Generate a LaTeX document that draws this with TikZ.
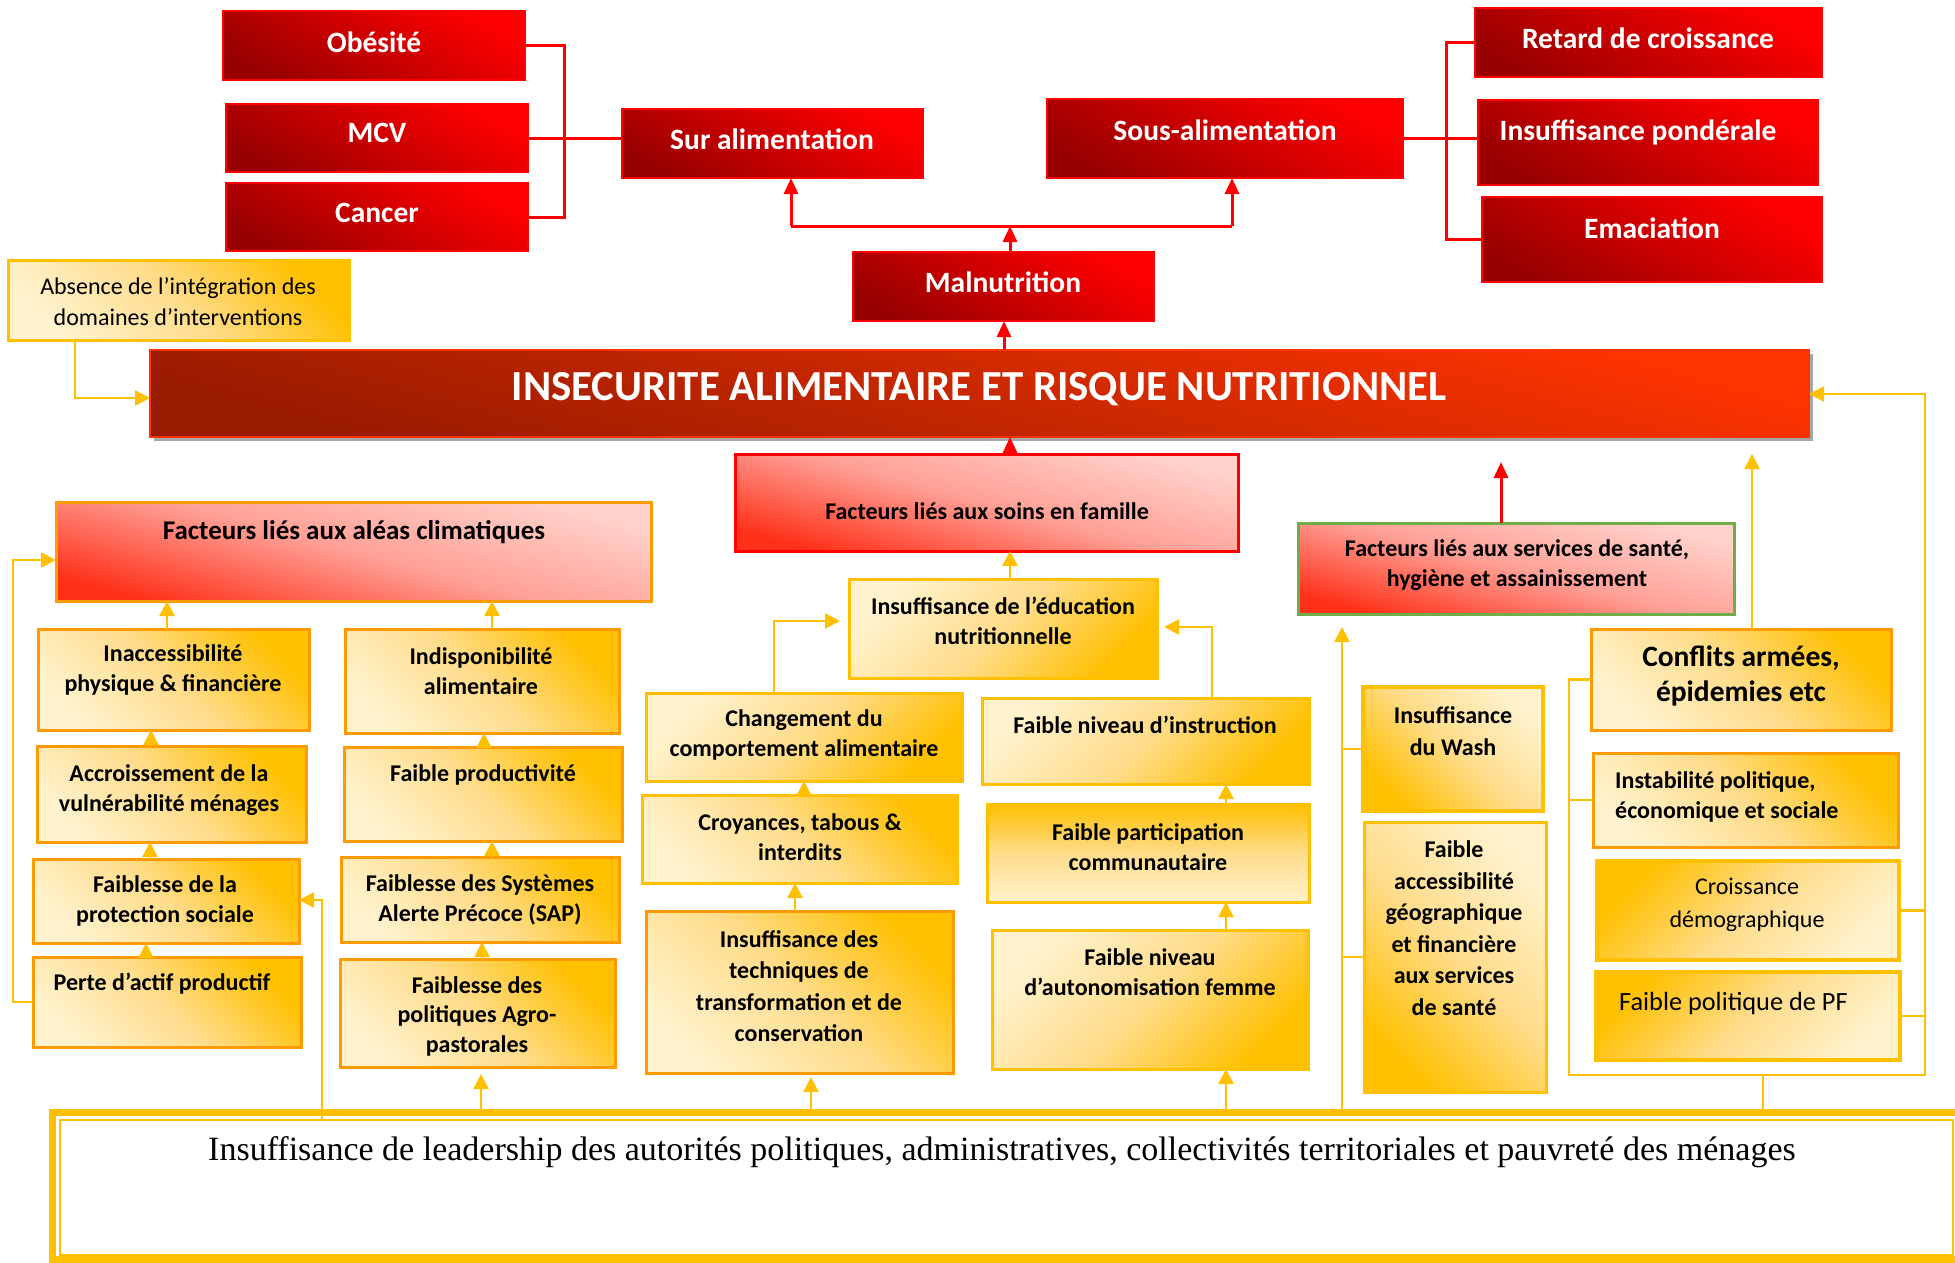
\documentclass[tikz,border=0pt]{standalone}
\usepackage{fontspec}
\setmainfont{Carlito}
\newfontfamily\seriffam{Liberation Serif}
\usetikzlibrary{arrows.meta}
\definecolor{redD}{HTML}{990000}
\definecolor{redM}{HTML}{CC0000}
\definecolor{redL}{HTML}{FF0000}
\definecolor{insD}{HTML}{981A00}
\definecolor{insM}{HTML}{C82800}
\definecolor{insL}{HTML}{FF3300}
\definecolor{gold}{HTML}{FFC000}
\definecolor{ylight}{HTML}{FFF2CC}
\definecolor{ymid}{HTML}{FFDC8A}
\definecolor{orgB}{HTML}{FF9A00}
\definecolor{pinkL}{HTML}{FFD3CC}
\definecolor{pinkM}{HTML}{FFA096}
\definecolor{pinkD}{HTML}{FF3018}
\definecolor{grnB}{HTML}{70AD47}
\definecolor{shadowG}{HTML}{A6A6A6}
\newcommand\bx[6]{\node[#6, minimum width={(#4)-(#2)}, minimum height={(#5)-(#3)}] (#1) at (#2,#3) {};}
\tikzset{
  box/.style={inner sep=0pt, outer sep=0pt, anchor=north west},
  redbox/.style={box, draw=redL, line width=2pt, top color=redL, bottom color=redD, middle color=redM, shading angle=-30},
  insbox/.style={box, draw=insL, line width=2.5pt, top color=insL, bottom color=insD, middle color=insM, shading angle=-15},
  ybox/.style={box, draw=gold, line width=3pt, top color=gold, bottom color=ylight, middle color=ymid, shading angle=#1},
  ybox/.default=-45,
  obox/.style={ybox=#1, draw=orgB},
  obox/.default=-45,
  pbox/.style={box, line width=3pt, top color=pinkL, bottom color=pinkD, middle color=pinkM, shading angle=-15},
  tB/.style={inner sep=0pt, align=center, font=\bfseries\fontsize{24}{29.5}\selectfont},
  tR/.style={inner sep=0pt, align=center, text=white, font=\bfseries\fontsize{29.5}{34}\selectfont},
  tN/.style={inner sep=0pt, align=center, font=\fontsize{24}{31}\selectfont},
  yline/.style={draw=gold, line width=2.5pt},
  yarr/.style={draw=gold, line width=2.5pt, -{Triangle[width=15pt,length=15pt]}},
  rline/.style={draw=redL, line width=3pt},
  rarr/.style={draw=redL, line width=3pt, -{Triangle[width=14pt,length=16pt]}},
}
\begin{document}
\begin{tikzpicture}[x=1pt,y=-1pt]
\useasboundingbox (0,0) rectangle (1955,1262);
\clip (0,0) rectangle (1955,1262);
\fill[white] (0,0) rectangle (1955,1262);

% ---------- top red boxes ----------
\bx{obes}{223}{11}{525}{80}{redbox}
\bx{mcv}{226}{104}{528}{172}{redbox}
\bx{cancer}{226}{183}{528}{251}{redbox}
\bx{sur}{622}{109}{923}{178}{redbox}
\bx{sous}{1047}{99}{1403}{178}{redbox}
\bx{retard}{1475}{8}{1822}{77}{redbox}
\bx{insp}{1478}{100}{1818}{185}{redbox}
\bx{emac}{1482}{197}{1822}{282}{redbox}
\bx{maln}{853}{252}{1154}{321}{redbox}

\bx{absence}{8}{260}{349}{340}{ybox=-45}
\fill[shadowG] (154,354) rectangle (1813,441);
\bx{insec}{150}{350}{1809}{437}{insbox}

% ---------- category boxes ----------
\bx{aleas}{56}{502}{651}{601}{pbox, draw=orgB}
\bx{soins}{735}{454}{1238}{551}{pbox, draw=redL}
\bx{sante}{1298}{523}{1734}{614}{pbox, draw=grnB}

% left columns
\bx{inacc}{38}{629}{309}{730}{obox}
\bx{indisp}{345}{629}{619}{733}{obox}
\bx{accr}{37}{746}{306}{842}{obox}
\bx{fprod}{344}{747}{622}{841}{obox}
\bx{prot}{33}{859}{299}{943}{obox}
\bx{sap}{341}{857}{619}{942}{obox}
\bx{perte}{33}{957}{301}{1047}{obox}
\bx{agro}{340}{959}{615}{1067}{obox}

% middle
\bx{educ}{849}{579}{1157}{678}{ybox=-135}
\bx{chg}{646}{693}{962}{781}{ybox=-135}
\bx{instr}{982}{698}{1309}{784}{ybox=-135}
\bx{croy}{642}{795}{957}{883}{ybox=-45}
\bx{part}{987}{804}{1309}{902}{ybox=0}
\bx{tech}{646}{911}{953}{1073}{obox}
\bx{auton}{992}{930}{1308}{1069}{ybox=-135}

% right
\bx{wash}{1363}{687}{1543}{811}{ybox=135, line width=4.5pt}
\bx{access}{1364}{822}{1546}{1092}{ybox=135}
\bx{conf}{1591}{629}{1891}{730}{obox}
\bx{instab}{1593}{753}{1898}{847}{obox}
\bx{crois}{1597}{861}{1899}{960}{ybox=45, line width=4.5pt}
\bx{pf}{1596}{972}{1900}{1060}{ybox=45, line width=4.5pt}

% bottom frame
\node[box, draw=gold, line width=7pt, minimum width=1920, minimum height=147] (leadout) at (52,1112) {};
\node[box, draw=gold, line width=2.5pt, minimum width=1893, minimum height=135] (lead) at (60,1120) {};

% ---------- red connectors ----------
\draw[rline] (obes.east) -- (obes.east -| 564,0) -- (cancer.east -| 564,0) -- (cancer.east);
\draw[rline] (mcv.east) -- (mcv.east -| sur.west);
\draw[rline] (sous.east) -- (sous.east -| insp.west);
\draw[rline] (retard.west) -- (retard.west -| 1446,0) -- (emac.west -| 1446,0) -- (emac.west);
\coordinate (splitL) at (791,226);
\coordinate (splitR) at (1232,226);
\draw[rline] (splitL) -- (splitR);
\draw[rarr] (splitL) -- (sur.south -| splitL);
\draw[rarr] (splitR) -- (sous.south -| splitR);
\draw[rarr] (maln.north -| 1010,0) -- (1010,226);
\draw[rarr] (insec.north -| 1004,0) -- (maln.south -| 1004,0);
\draw[rarr] (soins.north -| 1010,0) -- (insec.south -| 1010,0);
\coordinate (santetip) at (1501,462);
\draw[rarr] (sante.north -| santetip) -- (santetip);

% ---------- yellow connectors ----------
\draw[yarr] (absence.south -| 75,0) -- (75,398) -- (insec.west |- 0,398);
\draw[yarr] (inacc.north -| 167,0) -- (aleas.south -| 167,0);
\draw[yarr] (indisp.north -| 492,0) -- (aleas.south -| 492,0);
\draw[yarr] (accr.north -| 151,0) -- (inacc.south -| 151,0);
\draw[yarr] (fprod.north -| 484,0) -- (indisp.south -| 484,0);
\draw[yarr] (prot.north -| 150,0) -- (accr.south -| 150,0);
\draw[yarr] (sap.north -| 492,0) -- (fprod.south -| 492,0);
\draw[yarr] (perte.north -| 146,0) -- (prot.south -| 146,0);
\draw[yarr] (agro.north -| 482,0) -- (sap.south -| 482,0);
\draw[yarr, shorten >=7pt] (leadout.north -| 481,0) -- (agro.south -| 481,0);
\draw[yarr] (perte.west) -- (perte.west -| 13,0) -- (13,560) -- (aleas.west |- 0,560);
\draw[yarr] (lead.north -| 322,0) -- (322,900) -- (prot.east |- 0,900);

\draw[yarr] (educ.north -| 1010,0) -- (soins.south -| 1010,0);
\draw[yarr, shorten >=9pt] (chg.north -| 774,0) -- (774,621) -- (educ.west |- 0,621);
\draw[yarr, shorten >=7pt] (instr.north -| 1212,0) -- (1212,627) -- (educ.east |- 0,627);
\draw[yarr] (croy.north -| 804,0) -- (chg.south -| 804,0);
\draw[yarr] (tech.north -| 795,0) -- (croy.south -| 795,0);
\draw[yarr, shorten >=4pt] (leadout.north -| 811,0) -- (tech.south -| 811,0);
\draw[yarr] (part.north -| 1226,0) -- (instr.south -| 1226,0);
\draw[yarr] (auton.north -| 1226,0) -- (part.south -| 1226,0);
\draw[yarr] (leadout.north -| 1226,0) -- (auton.south -| 1226,0);

\coordinate (washtip) at (1342,627);
\draw[yarr] (leadout.north -| washtip) -- (washtip);
\draw[yline] (wash.west) -- (wash.west -| washtip);
\draw[yline] (access.west) -- (access.west -| washtip);

\coordinate (conftip) at (1752,454);
\draw[yarr] (conf.north -| conftip) -- (conftip);
\draw[yarr] (conf.west) -- (conf.west -| 1569,0) -- (1569,1075) -- (1925,1075) -- (1925,394) -- (insec.east |- 0,394);
\draw[yline] (instab.west) -- (instab.west -| 1569,0);
\draw[yline] (crois.east) -- (crois.east -| 1925,0);
\draw[yline] (pf.east) -- (pf.east -| 1925,0);
\draw[yline] (1763,1075) -- (leadout.north -| 1763,0);

% ---------- texts ----------
\node[tR] (obes-t) at (374,42) {Obésité};
\node[tR] (mcv-t) at (377,133) {MCV};
\node[tR] (cancer-t) at (377,213) {Cancer};
\node[tR] (sur-t) at (772,139) {Sur alimentation};
\node[tR] (sous-t) at (1225,130) {Sous-alimentation};
\node[tR] (retard-t) at (1648,38) {Retard de croissance};
\node[tR] (insp-t) at (1638,132) {Insuffisance pondérale};
\node[tR] (emac-t) at (1652,228) {Emaciation};
\node[tR] (maln-t) at (1003,282) {Malnutrition};
\node[tN] (absence-t) at (178,302) {Absence de l’intégration des\\domaines d’interventions};
\node[inner sep=0pt, text=white, font=\bfseries\fontsize{42.8}{48}\selectfont] (insec-t) at (979,389) {INSECURITE ALIMENTAIRE ET RISQUE NUTRITIONNEL};

\node[tB, font=\bfseries\fontsize{27}{32}\selectfont] (aleas-t) at (354,532) {Facteurs liés aux aléas climatiques};
\node[tB] (soins-t) at (987,511) {Facteurs liés aux soins en famille};
\node[tB] (sante-t) at (1517,565) {Facteurs liés aux services de santé,\\hygiène et assainissement};

\node[tB] (inacc-t) at (173,670) {Inaccessibilité\\physique \& financière};
\node[tB] (indisp-t) at (481,671) {Indisponibilité\\alimentaire};
\node[tB] (accr-t) at (169,790) {Accroissement de la\\vulnérabilité ménages};
\node[tB] (fprod-t) at (483,775) {Faible productivité};
\node[tB] (prot-t) at (165,901) {Faiblesse de la\\protection sociale};
\node[tB] (sap-t) at (480,900) {Faiblesse des Systèmes\\Alerte Précoce (SAP)};
\node[tB] (perte-t) at (162,984) {Perte d’actif productif};
\node[tB] (agro-t) at (477,1016) {Faiblesse des\\politiques Agro-\\pastorales};

\node[tB] (educ-t) at (1003,621) {Insuffisance de l’éducation\\nutritionnelle};
\node[tB] (chg-t) at (804,735) {Changement du\\comportement alimentaire};
\node[tB] (instr-t) at (1145,725) {Faible niveau d’instruction};
\node[tB] (croy-t) at (800,837) {Croyances, tabous \&\\interdits};
\node[tB] (part-t) at (1148,847) {Faible participation\\communautaire};
\node[tB, font=\bfseries\fontsize{24}{31.5}\selectfont] (tech-t) at (799,986) {Insuffisance des\\techniques de\\transformation et de\\conservation};
\node[tB] (auton-t) at (1150,972) {Faible niveau\\d’autonomisation femme};

\node[tB, font=\bfseries\fontsize{24}{32}\selectfont] (wash-t) at (1453,731) {Insuffisance\\du Wash};
\node[tB, font=\bfseries\fontsize{24}{31.5}\selectfont] (access-t) at (1454,928) {Faible\\accessibilité\\géographique\\et financière\\aux services\\de santé};
\node[tB, font=\bfseries\fontsize{29.5}{35}\selectfont] (conf-t) at (1741,676) {Conflits armées,\\épidemies etc};
\node[tB, align=left, anchor=west] (instab-t) at (1615,797) {Instabilité politique,\\économique et sociale};
\node[tN, font=\fontsize{24}{33}\selectfont] (crois-t) at (1747,905) {Croissance\\démographique};
\node[tN, anchor=west, font=\fontsize{26.3}{31}\selectfont] (pf-t) at (1619,1003) {Faible politique de PF};

\node[anchor=base west, inner sep=0pt, font=\seriffam\fontsize{34}{40}\selectfont] (lead-t) at (208,1160) {Insuffisance de leadership des autorités politiques, administratives, collectivités territoriales et pauvreté des ménages};
\end{tikzpicture}
\end{document}
